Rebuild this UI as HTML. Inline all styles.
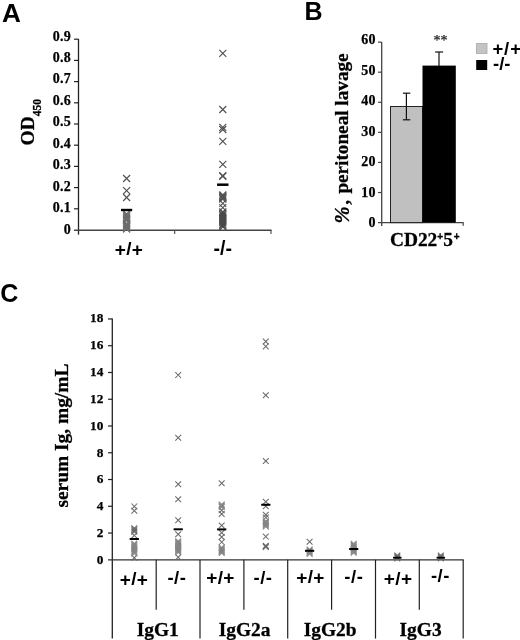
<!DOCTYPE html>
<html><head><meta charset="utf-8"><title>Figure</title>
<style>html,body{margin:0;padding:0;background:#fff}svg{display:block}.sf{font-family:"Liberation Serif",serif}.ss{font-family:"Liberation Sans",sans-serif}</style>
</head><body>
<svg width="520" height="640" viewBox="0 0 520 640">
<rect width="520" height="640" fill="#fff"/>
<text x="1.9" y="22" class="ss" font-size="25" font-weight="bold" text-anchor="start" textLength="18.9" lengthAdjust="spacingAndGlyphs">A</text>
<text x="304.5" y="19.5" class="ss" font-size="25" font-weight="bold" text-anchor="start" >B</text>
<text x="0.2" y="302.2" class="ss" font-size="25" font-weight="bold" text-anchor="start" >C</text>
<line x1="78.5" y1="39" x2="78.5" y2="234.6" stroke="#222" stroke-width="1.3"/>
<line x1="74" y1="230.2" x2="271.5" y2="230.2" stroke="#444" stroke-width="1.5"/>
<line x1="74" y1="208.8" x2="78.5" y2="208.8" stroke="#222" stroke-width="1.2"/>
<line x1="74" y1="187.6" x2="78.5" y2="187.6" stroke="#222" stroke-width="1.2"/>
<line x1="74" y1="166.4" x2="78.5" y2="166.4" stroke="#222" stroke-width="1.2"/>
<line x1="74" y1="145.2" x2="78.5" y2="145.2" stroke="#222" stroke-width="1.2"/>
<line x1="74" y1="124.0" x2="78.5" y2="124.0" stroke="#222" stroke-width="1.2"/>
<line x1="74" y1="102.8" x2="78.5" y2="102.8" stroke="#222" stroke-width="1.2"/>
<line x1="74" y1="81.6" x2="78.5" y2="81.6" stroke="#222" stroke-width="1.2"/>
<line x1="74" y1="60.400000000000006" x2="78.5" y2="60.400000000000006" stroke="#222" stroke-width="1.2"/>
<line x1="74" y1="39.19999999999999" x2="78.5" y2="39.19999999999999" stroke="#222" stroke-width="1.2"/>
<line x1="174.7" y1="230" x2="174.7" y2="234" stroke="#444" stroke-width="1.1"/>
<line x1="271" y1="230" x2="271" y2="234" stroke="#444" stroke-width="1.1"/>
<text x="70.9" y="233.75" class="sf" font-size="14" font-weight="bold" text-anchor="end" stroke="#000" stroke-width="0.25" letter-spacing="0.2">0</text>
<text x="70.9" y="212.28" class="sf" font-size="14" font-weight="bold" text-anchor="end" stroke="#000" stroke-width="0.25" letter-spacing="0.2">0.1</text>
<text x="70.9" y="190.81" class="sf" font-size="14" font-weight="bold" text-anchor="end" stroke="#000" stroke-width="0.25" letter-spacing="0.2">0.2</text>
<text x="70.9" y="169.34" class="sf" font-size="14" font-weight="bold" text-anchor="end" stroke="#000" stroke-width="0.25" letter-spacing="0.2">0.3</text>
<text x="70.9" y="147.87" class="sf" font-size="14" font-weight="bold" text-anchor="end" stroke="#000" stroke-width="0.25" letter-spacing="0.2">0.4</text>
<text x="70.9" y="126.4" class="sf" font-size="14" font-weight="bold" text-anchor="end" stroke="#000" stroke-width="0.25" letter-spacing="0.2">0.5</text>
<text x="70.9" y="104.93" class="sf" font-size="14" font-weight="bold" text-anchor="end" stroke="#000" stroke-width="0.25" letter-spacing="0.2">0.6</text>
<text x="70.9" y="83.46" class="sf" font-size="14" font-weight="bold" text-anchor="end" stroke="#000" stroke-width="0.25" letter-spacing="0.2">0.7</text>
<text x="70.9" y="61.99" class="sf" font-size="14" font-weight="bold" text-anchor="end" stroke="#000" stroke-width="0.25" letter-spacing="0.2">0.8</text>
<text x="70.9" y="40.52" class="sf" font-size="14" font-weight="bold" text-anchor="end" stroke="#000" stroke-width="0.25" letter-spacing="0.2">0.9</text>
<path d="M123.10 175.00L130.10 182.00M123.10 182.00L130.10 175.00" stroke="#505050" stroke-width="1.15" fill="none"/>
<path d="M123.10 187.10L130.10 194.10M123.10 194.10L130.10 187.10" stroke="#505050" stroke-width="1.15" fill="none"/>
<path d="M123.10 194.00L130.10 201.00M123.10 201.00L130.10 194.00" stroke="#505050" stroke-width="1.15" fill="none"/>
<path d="M123.10 210.50L130.10 217.50M123.10 217.50L130.10 210.50" stroke="#6c6c6c" stroke-width="1.15" fill="none"/><path d="M123.10 211.45L130.10 218.45M123.10 218.45L130.10 211.45" stroke="#6c6c6c" stroke-width="1.15" fill="none"/><path d="M123.10 212.40L130.10 219.40M123.10 219.40L130.10 212.40" stroke="#6c6c6c" stroke-width="1.15" fill="none"/><path d="M123.10 213.35L130.10 220.35M123.10 220.35L130.10 213.35" stroke="#6c6c6c" stroke-width="1.15" fill="none"/><path d="M123.10 214.30L130.10 221.30M123.10 221.30L130.10 214.30" stroke="#6c6c6c" stroke-width="1.15" fill="none"/><path d="M123.10 215.25L130.10 222.25M123.10 222.25L130.10 215.25" stroke="#6c6c6c" stroke-width="1.15" fill="none"/><path d="M123.10 216.20L130.10 223.20M123.10 223.20L130.10 216.20" stroke="#6c6c6c" stroke-width="1.15" fill="none"/><path d="M123.10 217.15L130.10 224.15M123.10 224.15L130.10 217.15" stroke="#6c6c6c" stroke-width="1.15" fill="none"/>
<path d="M123.10 220.10L130.10 227.10M123.10 227.10L130.10 220.10" stroke="#6c6c6c" stroke-width="1.15" fill="none"/><path d="M123.10 221.00L130.10 228.00M123.10 228.00L130.10 221.00" stroke="#6c6c6c" stroke-width="1.15" fill="none"/><path d="M123.10 221.90L130.10 228.90M123.10 228.90L130.10 221.90" stroke="#6c6c6c" stroke-width="1.15" fill="none"/><path d="M123.10 222.80L130.10 229.80M123.10 229.80L130.10 222.80" stroke="#6c6c6c" stroke-width="1.15" fill="none"/><path d="M123.10 223.70L130.10 230.70M123.10 230.70L130.10 223.70" stroke="#6c6c6c" stroke-width="1.15" fill="none"/><path d="M123.10 224.60L130.10 231.60M123.10 231.60L130.10 224.60" stroke="#6c6c6c" stroke-width="1.15" fill="none"/><path d="M123.10 225.50L130.10 232.50M123.10 232.50L130.10 225.50" stroke="#6c6c6c" stroke-width="1.15" fill="none"/>
<rect x="121.00" y="208.80" width="11.20" height="2.40" fill="#000"/>
<path d="M219.30 49.80L226.30 56.80M219.30 56.80L226.30 49.80" stroke="#505050" stroke-width="1.15" fill="none"/>
<path d="M219.30 106.00L226.30 113.00M219.30 113.00L226.30 106.00" stroke="#505050" stroke-width="1.15" fill="none"/>
<path d="M219.30 123.80L226.30 130.80M219.30 130.80L226.30 123.80" stroke="#505050" stroke-width="1.15" fill="none"/>
<path d="M219.30 126.00L226.30 133.00M219.30 133.00L226.30 126.00" stroke="#505050" stroke-width="1.15" fill="none"/>
<path d="M219.30 137.80L226.30 144.80M219.30 144.80L226.30 137.80" stroke="#505050" stroke-width="1.15" fill="none"/>
<path d="M219.30 160.90L226.30 167.90M219.30 167.90L226.30 160.90" stroke="#505050" stroke-width="1.15" fill="none"/>
<path d="M219.30 172.10L226.30 179.10M219.30 179.10L226.30 172.10" stroke="#505050" stroke-width="1.15" fill="none"/>
<path d="M219.30 172.90L226.30 179.90M219.30 179.90L226.30 172.90" stroke="#505050" stroke-width="1.15" fill="none"/>
<path d="M219.30 191.50L226.30 198.50M219.30 198.50L226.30 191.50" stroke="#555" stroke-width="1.15" fill="none"/><path d="M219.30 192.30L226.30 199.30M219.30 199.30L226.30 192.30" stroke="#555" stroke-width="1.15" fill="none"/><path d="M219.30 193.10L226.30 200.10M219.30 200.10L226.30 193.10" stroke="#555" stroke-width="1.15" fill="none"/><path d="M219.30 193.90L226.30 200.90M219.30 200.90L226.30 193.90" stroke="#555" stroke-width="1.15" fill="none"/><path d="M219.30 194.70L226.30 201.70M219.30 201.70L226.30 194.70" stroke="#555" stroke-width="1.15" fill="none"/><path d="M219.30 195.50L226.30 202.50M219.30 202.50L226.30 195.50" stroke="#555" stroke-width="1.15" fill="none"/>
<path d="M219.30 199.90L226.30 206.90M219.30 206.90L226.30 199.90" stroke="#555" stroke-width="1.15" fill="none"/>
<path d="M219.30 204.10L226.30 211.10M219.30 211.10L226.30 204.10" stroke="#555" stroke-width="1.15" fill="none"/>
<path d="M219.30 208.30L226.30 215.30M219.30 215.30L226.30 208.30" stroke="#484848" stroke-width="1.1" fill="none"/><path d="M219.30 209.66L226.30 216.66M219.30 216.66L226.30 209.66" stroke="#484848" stroke-width="1.1" fill="none"/><path d="M219.30 211.02L226.30 218.02M219.30 218.02L226.30 211.02" stroke="#484848" stroke-width="1.1" fill="none"/><path d="M219.30 212.38L226.30 219.38M219.30 219.38L226.30 212.38" stroke="#484848" stroke-width="1.1" fill="none"/><path d="M219.30 213.74L226.30 220.74M219.30 220.74L226.30 213.74" stroke="#484848" stroke-width="1.1" fill="none"/><path d="M219.30 215.10L226.30 222.10M219.30 222.10L226.30 215.10" stroke="#484848" stroke-width="1.1" fill="none"/><path d="M219.30 216.46L226.30 223.46M219.30 223.46L226.30 216.46" stroke="#484848" stroke-width="1.1" fill="none"/><path d="M219.30 217.82L226.30 224.82M219.30 224.82L226.30 217.82" stroke="#484848" stroke-width="1.1" fill="none"/><path d="M219.30 219.18L226.30 226.18M219.30 226.18L226.30 219.18" stroke="#484848" stroke-width="1.1" fill="none"/><path d="M219.30 220.54L226.30 227.54M219.30 227.54L226.30 220.54" stroke="#484848" stroke-width="1.1" fill="none"/><path d="M219.30 221.90L226.30 228.90M219.30 228.90L226.30 221.90" stroke="#484848" stroke-width="1.1" fill="none"/><path d="M219.30 223.26L226.30 230.26M219.30 230.26L226.30 223.26" stroke="#484848" stroke-width="1.1" fill="none"/>
<rect x="217.10" y="183.45" width="11.40" height="2.50" fill="#000"/>
<text x="129.0" y="254.5" class="ss" font-size="19" font-weight="bold" text-anchor="middle" letter-spacing="0.35"><tspan dy="1.9">+</tspan><tspan dy="-1.9">/</tspan><tspan dy="1.9">+</tspan></text>
<text x="222.7" y="254.9" class="ss" font-size="19.5" font-weight="bold" text-anchor="middle" >-/-</text>
<g transform="translate(34,145.5) rotate(-90)"><text x="0" y="0" class="sf" font-size="19.5" font-weight="bold" text-anchor="start" stroke="#000" stroke-width="0.3">OD<tspan font-size="11.5" dy="7">450</tspan></text></g>
<line x1="381.7" y1="42" x2="381.7" y2="226.1" stroke="#444" stroke-width="1.3"/>
<line x1="378" y1="222.6" x2="463.5" y2="222.6" stroke="#444" stroke-width="1.3"/>
<line x1="463.2" y1="222.6" x2="463.2" y2="225.79999999999998" stroke="#444" stroke-width="1.2"/>
<line x1="378" y1="192.51999999999998" x2="381.7" y2="192.51999999999998" stroke="#444" stroke-width="1.2"/>
<line x1="378" y1="162.44" x2="381.7" y2="162.44" stroke="#444" stroke-width="1.2"/>
<line x1="378" y1="132.36" x2="381.7" y2="132.36" stroke="#444" stroke-width="1.2"/>
<line x1="378" y1="102.28" x2="381.7" y2="102.28" stroke="#444" stroke-width="1.2"/>
<line x1="378" y1="72.20000000000002" x2="381.7" y2="72.20000000000002" stroke="#444" stroke-width="1.2"/>
<line x1="378" y1="42.120000000000005" x2="381.7" y2="42.120000000000005" stroke="#444" stroke-width="1.2"/>
<text x="375.7" y="227.0" class="sf" font-size="14" font-weight="bold" text-anchor="end" stroke="#000" stroke-width="0.25" letter-spacing="0.2">0</text>
<text x="375.7" y="196.55" class="sf" font-size="14" font-weight="bold" text-anchor="end" stroke="#000" stroke-width="0.25" letter-spacing="0.2">10</text>
<text x="375.7" y="166.1" class="sf" font-size="14" font-weight="bold" text-anchor="end" stroke="#000" stroke-width="0.25" letter-spacing="0.2">20</text>
<text x="375.7" y="135.65" class="sf" font-size="14" font-weight="bold" text-anchor="end" stroke="#000" stroke-width="0.25" letter-spacing="0.2">30</text>
<text x="375.7" y="105.2" class="sf" font-size="14" font-weight="bold" text-anchor="end" stroke="#000" stroke-width="0.25" letter-spacing="0.2">40</text>
<text x="375.7" y="74.75" class="sf" font-size="14" font-weight="bold" text-anchor="end" stroke="#000" stroke-width="0.25" letter-spacing="0.2">50</text>
<text x="375.7" y="44.3" class="sf" font-size="14" font-weight="bold" text-anchor="end" stroke="#000" stroke-width="0.25" letter-spacing="0.2">60</text>
<rect x="390.5" y="106.5" width="32" height="116.10" fill="#c0c0c0" stroke="#222" stroke-width="1"/>
<rect x="422.5" y="65.6" width="33.3" height="157.00" fill="#000"/>
<line x1="406.4" y1="93.2" x2="406.4" y2="119.8" stroke="#111" stroke-width="1.2"/>
<line x1="402.9" y1="93.2" x2="410.3" y2="93.2" stroke="#111" stroke-width="1.2"/>
<line x1="402.9" y1="119.8" x2="410.3" y2="119.8" stroke="#111" stroke-width="1.2"/>
<line x1="439.0" y1="52" x2="439.0" y2="66" stroke="#111" stroke-width="1.2"/>
<line x1="435.1" y1="52" x2="443.1" y2="52" stroke="#111" stroke-width="1.2"/>
<text x="440.5" y="45.1" class="sf" font-size="14" font-weight="normal" text-anchor="middle" stroke="#222" stroke-width="0.25" fill="#222">**</text>
<text x="389.9" y="246.3" class="sf" font-size="19.4" font-weight="bold" text-anchor="start" stroke="#000" stroke-width="0.3">CD22<tspan font-size="10" dy="-6.3" dx="-0.1" class="ss">+</tspan><tspan dy="6.3" dx="0.2">5</tspan><tspan font-size="10" dy="-6.3" dx="0.9" class="ss">+</tspan></text>
<g transform="translate(348.9,223.4) rotate(-90)"><text x="0" y="0" class="sf" font-size="19.5" font-weight="bold" text-anchor="start" stroke="#000" stroke-width="0.3"><tspan font-style="italic" font-size="20.5">%</tspan><tspan dx="1.6">,</tspan></text></g>
<g transform="translate(348.4,193.6) rotate(-90)"><text x="0" y="0" class="sf" font-size="19.5" font-weight="bold" text-anchor="start" textLength="140.2" lengthAdjust="spacingAndGlyphs" stroke="#000" stroke-width="0.3">peritoneal lavage</text></g>
<rect x="476.5" y="43.5" width="10.5" height="10" fill="#c4c4c4" stroke="#aaa" stroke-width="0.8"/>
<rect x="476.2" y="60" width="11" height="10" fill="#000"/>
<text x="492.4" y="54.5" class="ss" font-size="18.5" font-weight="bold" text-anchor="start" letter-spacing="0.9"><tspan dy="0.9">+</tspan><tspan dy="-0.9">/</tspan><tspan dy="0.9">+</tspan></text>
<text x="493.0" y="70.2" class="ss" font-size="18.5" font-weight="bold" text-anchor="start" >-/-</text>
<line x1="112.3" y1="318.5" x2="112.3" y2="638.6" stroke="#222" stroke-width="1.3"/>
<line x1="108" y1="559.8" x2="463.6" y2="559.8" stroke="#333" stroke-width="1.3"/>
<line x1="108" y1="533.04" x2="112.3" y2="533.04" stroke="#222" stroke-width="1.2"/>
<line x1="108" y1="506.28" x2="112.3" y2="506.28" stroke="#222" stroke-width="1.2"/>
<line x1="108" y1="479.52" x2="112.3" y2="479.52" stroke="#222" stroke-width="1.2"/>
<line x1="108" y1="452.75999999999993" x2="112.3" y2="452.75999999999993" stroke="#222" stroke-width="1.2"/>
<line x1="108" y1="425.99999999999994" x2="112.3" y2="425.99999999999994" stroke="#222" stroke-width="1.2"/>
<line x1="108" y1="399.23999999999995" x2="112.3" y2="399.23999999999995" stroke="#222" stroke-width="1.2"/>
<line x1="108" y1="372.4799999999999" x2="112.3" y2="372.4799999999999" stroke="#222" stroke-width="1.2"/>
<line x1="108" y1="345.7199999999999" x2="112.3" y2="345.7199999999999" stroke="#222" stroke-width="1.2"/>
<line x1="108" y1="318.9599999999999" x2="112.3" y2="318.9599999999999" stroke="#222" stroke-width="1.2"/>
<text x="103.6" y="563.95" class="sf" font-size="13.3" font-weight="bold" text-anchor="end" stroke="#000" stroke-width="0.25" letter-spacing="0.2">0</text>
<text x="103.6" y="537.1" class="sf" font-size="13.3" font-weight="bold" text-anchor="end" stroke="#000" stroke-width="0.25" letter-spacing="0.2">2</text>
<text x="103.6" y="510.25" class="sf" font-size="13.3" font-weight="bold" text-anchor="end" stroke="#000" stroke-width="0.25" letter-spacing="0.2">4</text>
<text x="103.6" y="483.4" class="sf" font-size="13.3" font-weight="bold" text-anchor="end" stroke="#000" stroke-width="0.25" letter-spacing="0.2">6</text>
<text x="103.6" y="456.55" class="sf" font-size="13.3" font-weight="bold" text-anchor="end" stroke="#000" stroke-width="0.25" letter-spacing="0.2">8</text>
<text x="103.6" y="429.7" class="sf" font-size="13.3" font-weight="bold" text-anchor="end" stroke="#000" stroke-width="0.25" letter-spacing="0.2">10</text>
<text x="103.6" y="402.85" class="sf" font-size="13.3" font-weight="bold" text-anchor="end" stroke="#000" stroke-width="0.25" letter-spacing="0.2">12</text>
<text x="103.6" y="376.0" class="sf" font-size="13.3" font-weight="bold" text-anchor="end" stroke="#000" stroke-width="0.25" letter-spacing="0.2">14</text>
<text x="103.6" y="349.15" class="sf" font-size="13.3" font-weight="bold" text-anchor="end" stroke="#000" stroke-width="0.25" letter-spacing="0.2">16</text>
<text x="103.6" y="322.3" class="sf" font-size="13.3" font-weight="bold" text-anchor="end" stroke="#000" stroke-width="0.25" letter-spacing="0.2">18</text>
<line x1="156.2" y1="559.8" x2="156.2" y2="609.8" stroke="#222" stroke-width="1.2"/>
<line x1="200.0" y1="559.8" x2="200.0" y2="638.6" stroke="#222" stroke-width="1.2"/>
<line x1="243.9" y1="559.8" x2="243.9" y2="609.8" stroke="#222" stroke-width="1.2"/>
<line x1="287.7" y1="559.8" x2="287.7" y2="638.6" stroke="#222" stroke-width="1.2"/>
<line x1="331.6" y1="559.8" x2="331.6" y2="609.8" stroke="#222" stroke-width="1.2"/>
<line x1="375.5" y1="559.8" x2="375.5" y2="638.6" stroke="#222" stroke-width="1.2"/>
<line x1="419.3" y1="559.8" x2="419.3" y2="609.8" stroke="#222" stroke-width="1.2"/>
<line x1="463.2" y1="559.8" x2="463.2" y2="638.6" stroke="#222" stroke-width="1.2"/>
<path d="M131.40 503.50L137.20 509.30M131.40 509.30L137.20 503.50" stroke="#6a6a6a" stroke-width="1.05" fill="none"/>
<path d="M131.40 507.90L137.20 513.70M131.40 513.70L137.20 507.90" stroke="#6a6a6a" stroke-width="1.05" fill="none"/>
<path d="M131.40 525.30L137.20 531.10M131.40 531.10L137.20 525.30" stroke="#6a6a6a" stroke-width="1.05" fill="none"/>
<path d="M131.40 526.50L137.20 532.30M131.40 532.30L137.20 526.50" stroke="#6a6a6a" stroke-width="1.05" fill="none"/>
<path d="M131.40 527.70L137.20 533.50M131.40 533.50L137.20 527.70" stroke="#6a6a6a" stroke-width="1.05" fill="none"/>
<path d="M131.40 528.90L137.20 534.70M131.40 534.70L137.20 528.90" stroke="#6a6a6a" stroke-width="1.05" fill="none"/>
<path d="M131.40 532.50L137.20 538.30M131.40 538.30L137.20 532.50" stroke="#6a6a6a" stroke-width="1.05" fill="none"/>
<path d="M131.40 554.90L137.20 560.70M131.40 560.70L137.20 554.90" stroke="#6a6a6a" stroke-width="1.05" fill="none"/>
<path d="M131.40 540.70L137.20 546.50M131.40 546.50L137.20 540.70" stroke="#858585" stroke-width="1.05" fill="none"/><path d="M131.40 541.70L137.20 547.50M131.40 547.50L137.20 541.70" stroke="#858585" stroke-width="1.05" fill="none"/><path d="M131.40 542.70L137.20 548.50M131.40 548.50L137.20 542.70" stroke="#858585" stroke-width="1.05" fill="none"/><path d="M131.40 543.70L137.20 549.50M131.40 549.50L137.20 543.70" stroke="#858585" stroke-width="1.05" fill="none"/><path d="M131.40 544.70L137.20 550.50M131.40 550.50L137.20 544.70" stroke="#858585" stroke-width="1.05" fill="none"/><path d="M131.40 545.70L137.20 551.50M131.40 551.50L137.20 545.70" stroke="#858585" stroke-width="1.05" fill="none"/><path d="M131.40 546.70L137.20 552.50M131.40 552.50L137.20 546.70" stroke="#858585" stroke-width="1.05" fill="none"/><path d="M131.40 547.70L137.20 553.50M131.40 553.50L137.20 547.70" stroke="#858585" stroke-width="1.05" fill="none"/><path d="M131.40 548.70L137.20 554.50M131.40 554.50L137.20 548.70" stroke="#858585" stroke-width="1.05" fill="none"/><path d="M131.40 549.70L137.20 555.50M131.40 555.50L137.20 549.70" stroke="#858585" stroke-width="1.05" fill="none"/><path d="M131.40 550.70L137.20 556.50M131.40 556.50L137.20 550.70" stroke="#858585" stroke-width="1.05" fill="none"/>
<rect x="129.70" y="538.00" width="9.20" height="2.00" fill="#000"/>
<path d="M175.30 372.20L181.10 378.00M175.30 378.00L181.10 372.20" stroke="#6a6a6a" stroke-width="1.05" fill="none"/>
<path d="M175.30 434.90L181.10 440.70M175.30 440.70L181.10 434.90" stroke="#6a6a6a" stroke-width="1.05" fill="none"/>
<path d="M175.30 481.30L181.10 487.10M175.30 487.10L181.10 481.30" stroke="#6a6a6a" stroke-width="1.05" fill="none"/>
<path d="M175.30 496.40L181.10 502.20M175.30 502.20L181.10 496.40" stroke="#6a6a6a" stroke-width="1.05" fill="none"/>
<path d="M175.30 517.40L181.10 523.20M175.30 523.20L181.10 517.40" stroke="#6a6a6a" stroke-width="1.05" fill="none"/>
<path d="M175.30 531.30L181.10 537.10M175.30 537.10L181.10 531.30" stroke="#6a6a6a" stroke-width="1.05" fill="none"/>
<path d="M175.30 554.30L181.10 560.10M175.30 560.10L181.10 554.30" stroke="#6a6a6a" stroke-width="1.05" fill="none"/>
<path d="M175.30 538.30L181.10 544.10M175.30 544.10L181.10 538.30" stroke="#858585" stroke-width="1.05" fill="none"/><path d="M175.30 539.30L181.10 545.10M175.30 545.10L181.10 539.30" stroke="#858585" stroke-width="1.05" fill="none"/><path d="M175.30 540.30L181.10 546.10M175.30 546.10L181.10 540.30" stroke="#858585" stroke-width="1.05" fill="none"/><path d="M175.30 541.30L181.10 547.10M175.30 547.10L181.10 541.30" stroke="#858585" stroke-width="1.05" fill="none"/><path d="M175.30 542.30L181.10 548.10M175.30 548.10L181.10 542.30" stroke="#858585" stroke-width="1.05" fill="none"/><path d="M175.30 543.30L181.10 549.10M175.30 549.10L181.10 543.30" stroke="#858585" stroke-width="1.05" fill="none"/><path d="M175.30 544.30L181.10 550.10M175.30 550.10L181.10 544.30" stroke="#858585" stroke-width="1.05" fill="none"/><path d="M175.30 545.30L181.10 551.10M175.30 551.10L181.10 545.30" stroke="#858585" stroke-width="1.05" fill="none"/><path d="M175.30 546.30L181.10 552.10M175.30 552.10L181.10 546.30" stroke="#858585" stroke-width="1.05" fill="none"/><path d="M175.30 547.30L181.10 553.10M175.30 553.10L181.10 547.30" stroke="#858585" stroke-width="1.05" fill="none"/><path d="M175.30 548.30L181.10 554.10M175.30 554.10L181.10 548.30" stroke="#858585" stroke-width="1.05" fill="none"/><path d="M175.30 549.30L181.10 555.10M175.30 555.10L181.10 549.30" stroke="#858585" stroke-width="1.05" fill="none"/>
<rect x="173.60" y="528.30" width="9.20" height="2.00" fill="#000"/>
<path d="M218.80 480.30L224.60 486.10M218.80 486.10L224.60 480.30" stroke="#6a6a6a" stroke-width="1.05" fill="none"/>
<path d="M218.80 507.40L224.60 513.20M218.80 513.20L224.60 507.40" stroke="#6a6a6a" stroke-width="1.05" fill="none"/>
<path d="M218.80 511.10L224.60 516.90M218.80 516.90L224.60 511.10" stroke="#6a6a6a" stroke-width="1.05" fill="none"/>
<path d="M218.80 522.60L224.60 528.40M218.80 528.40L224.60 522.60" stroke="#6a6a6a" stroke-width="1.05" fill="none"/>
<path d="M218.80 529.80L224.60 535.60M218.80 535.60L224.60 529.80" stroke="#6a6a6a" stroke-width="1.05" fill="none"/>
<path d="M218.80 534.10L224.60 539.90M218.80 539.90L224.60 534.10" stroke="#6a6a6a" stroke-width="1.05" fill="none"/>
<path d="M218.80 539.20L224.60 545.00M218.80 545.00L224.60 539.20" stroke="#6a6a6a" stroke-width="1.05" fill="none"/>
<path d="M218.80 501.50L224.60 507.30M218.80 507.30L224.60 501.50" stroke="#858585" stroke-width="1.05" fill="none"/><path d="M218.80 502.40L224.60 508.20M218.80 508.20L224.60 502.40" stroke="#858585" stroke-width="1.05" fill="none"/><path d="M218.80 503.30L224.60 509.10M218.80 509.10L224.60 503.30" stroke="#858585" stroke-width="1.05" fill="none"/><path d="M218.80 504.20L224.60 510.00M218.80 510.00L224.60 504.20" stroke="#858585" stroke-width="1.05" fill="none"/>
<path d="M218.80 544.70L224.60 550.50M218.80 550.50L224.60 544.70" stroke="#858585" stroke-width="1.05" fill="none"/><path d="M218.80 545.60L224.60 551.40M218.80 551.40L224.60 545.60" stroke="#858585" stroke-width="1.05" fill="none"/><path d="M218.80 546.50L224.60 552.30M218.80 552.30L224.60 546.50" stroke="#858585" stroke-width="1.05" fill="none"/><path d="M218.80 547.40L224.60 553.20M218.80 553.20L224.60 547.40" stroke="#858585" stroke-width="1.05" fill="none"/><path d="M218.80 548.30L224.60 554.10M218.80 554.10L224.60 548.30" stroke="#858585" stroke-width="1.05" fill="none"/><path d="M218.80 549.20L224.60 555.00M218.80 555.00L224.60 549.20" stroke="#858585" stroke-width="1.05" fill="none"/><path d="M218.80 550.10L224.60 555.90M218.80 555.90L224.60 550.10" stroke="#858585" stroke-width="1.05" fill="none"/>
<rect x="217.10" y="528.40" width="9.20" height="2.00" fill="#000"/>
<path d="M262.90 338.60L268.70 344.40M262.90 344.40L268.70 338.60" stroke="#6a6a6a" stroke-width="1.05" fill="none"/>
<path d="M262.90 343.50L268.70 349.30M262.90 349.30L268.70 343.50" stroke="#6a6a6a" stroke-width="1.05" fill="none"/>
<path d="M262.90 392.30L268.70 398.10M262.90 398.10L268.70 392.30" stroke="#6a6a6a" stroke-width="1.05" fill="none"/>
<path d="M262.90 458.10L268.70 463.90M262.90 463.90L268.70 458.10" stroke="#6a6a6a" stroke-width="1.05" fill="none"/>
<path d="M262.90 498.90L268.70 504.70M262.90 504.70L268.70 498.90" stroke="#6a6a6a" stroke-width="1.05" fill="none"/>
<path d="M262.90 503.30L268.70 509.10M262.90 509.10L268.70 503.30" stroke="#6a6a6a" stroke-width="1.05" fill="none"/>
<path d="M262.90 511.80L268.70 517.60M262.90 517.60L268.70 511.80" stroke="#6a6a6a" stroke-width="1.05" fill="none"/>
<path d="M262.90 514.70L268.70 520.50M262.90 520.50L268.70 514.70" stroke="#6a6a6a" stroke-width="1.05" fill="none"/>
<path d="M262.90 533.70L268.70 539.50M262.90 539.50L268.70 533.70" stroke="#6a6a6a" stroke-width="1.05" fill="none"/>
<path d="M262.90 542.90L268.70 548.70M262.90 548.70L268.70 542.90" stroke="#6a6a6a" stroke-width="1.05" fill="none"/>
<path d="M262.90 543.50L268.70 549.30M262.90 549.30L268.70 543.50" stroke="#6a6a6a" stroke-width="1.05" fill="none"/>
<path d="M262.90 544.10L268.70 549.90M262.90 549.90L268.70 544.10" stroke="#6a6a6a" stroke-width="1.05" fill="none"/>
<path d="M262.90 518.30L268.70 524.10M262.90 524.10L268.70 518.30" stroke="#858585" stroke-width="1.05" fill="none"/><path d="M262.90 519.20L268.70 525.00M262.90 525.00L268.70 519.20" stroke="#858585" stroke-width="1.05" fill="none"/><path d="M262.90 520.10L268.70 525.90M262.90 525.90L268.70 520.10" stroke="#858585" stroke-width="1.05" fill="none"/><path d="M262.90 521.00L268.70 526.80M262.90 526.80L268.70 521.00" stroke="#858585" stroke-width="1.05" fill="none"/><path d="M262.90 521.90L268.70 527.70M262.90 527.70L268.70 521.90" stroke="#858585" stroke-width="1.05" fill="none"/><path d="M262.90 522.80L268.70 528.60M262.90 528.60L268.70 522.80" stroke="#858585" stroke-width="1.05" fill="none"/><path d="M262.90 523.70L268.70 529.50M262.90 529.50L268.70 523.70" stroke="#858585" stroke-width="1.05" fill="none"/>
<rect x="261.20" y="503.80" width="9.20" height="2.00" fill="#000"/>
<path d="M306.70 538.90L312.50 544.70M306.70 544.70L312.50 538.90" stroke="#6a6a6a" stroke-width="1.05" fill="none"/>
<path d="M306.70 546.50L312.50 552.30M306.70 552.30L312.50 546.50" stroke="#858585" stroke-width="1.05" fill="none"/><path d="M306.70 547.40L312.50 553.20M306.70 553.20L312.50 547.40" stroke="#858585" stroke-width="1.05" fill="none"/><path d="M306.70 548.30L312.50 554.10M306.70 554.10L312.50 548.30" stroke="#858585" stroke-width="1.05" fill="none"/><path d="M306.70 549.20L312.50 555.00M306.70 555.00L312.50 549.20" stroke="#858585" stroke-width="1.05" fill="none"/><path d="M306.70 550.10L312.50 555.90M306.70 555.90L312.50 550.10" stroke="#858585" stroke-width="1.05" fill="none"/><path d="M306.70 551.00L312.50 556.80M306.70 556.80L312.50 551.00" stroke="#858585" stroke-width="1.05" fill="none"/>
<rect x="305.00" y="549.80" width="9.20" height="2.00" fill="#000"/>
<path d="M350.80 540.80L356.60 546.60M350.80 546.60L356.60 540.80" stroke="#858585" stroke-width="1.05" fill="none"/><path d="M350.80 541.80L356.60 547.60M350.80 547.60L356.60 541.80" stroke="#858585" stroke-width="1.05" fill="none"/><path d="M350.80 542.80L356.60 548.60M350.80 548.60L356.60 542.80" stroke="#858585" stroke-width="1.05" fill="none"/><path d="M350.80 543.80L356.60 549.60M350.80 549.60L356.60 543.80" stroke="#858585" stroke-width="1.05" fill="none"/><path d="M350.80 544.80L356.60 550.60M350.80 550.60L356.60 544.80" stroke="#858585" stroke-width="1.05" fill="none"/><path d="M350.80 545.80L356.60 551.60M350.80 551.60L356.60 545.80" stroke="#858585" stroke-width="1.05" fill="none"/><path d="M350.80 546.80L356.60 552.60M350.80 552.60L356.60 546.80" stroke="#858585" stroke-width="1.05" fill="none"/><path d="M350.80 547.80L356.60 553.60M350.80 553.60L356.60 547.80" stroke="#858585" stroke-width="1.05" fill="none"/><path d="M350.80 548.80L356.60 554.60M350.80 554.60L356.60 548.80" stroke="#858585" stroke-width="1.05" fill="none"/><path d="M350.80 549.80L356.60 555.60M350.80 555.60L356.60 549.80" stroke="#858585" stroke-width="1.05" fill="none"/>
<rect x="349.10" y="548.00" width="9.20" height="2.00" fill="#000"/>
<path d="M394.40 552.60L400.20 558.40M394.40 558.40L400.20 552.60" stroke="#6a6a6a" stroke-width="1.05" fill="none"/><path d="M394.40 553.60L400.20 559.40M394.40 559.40L400.20 553.60" stroke="#6a6a6a" stroke-width="1.05" fill="none"/><path d="M394.40 554.60L400.20 560.40M394.40 560.40L400.20 554.60" stroke="#6a6a6a" stroke-width="1.05" fill="none"/><path d="M394.40 555.60L400.20 561.40M394.40 561.40L400.20 555.60" stroke="#6a6a6a" stroke-width="1.05" fill="none"/>
<rect x="393.05" y="556.80" width="8.50" height="1.80" fill="#000"/>
<path d="M437.90 552.60L443.70 558.40M437.90 558.40L443.70 552.60" stroke="#6a6a6a" stroke-width="1.05" fill="none"/><path d="M437.90 553.60L443.70 559.40M437.90 559.40L443.70 553.60" stroke="#6a6a6a" stroke-width="1.05" fill="none"/><path d="M437.90 554.60L443.70 560.40M437.90 560.40L443.70 554.60" stroke="#6a6a6a" stroke-width="1.05" fill="none"/><path d="M437.90 555.60L443.70 561.40M437.90 561.40L443.70 555.60" stroke="#6a6a6a" stroke-width="1.05" fill="none"/>
<rect x="436.55" y="556.80" width="8.50" height="1.80" fill="#000"/>
<text x="134.0" y="585.3" class="ss" font-size="19" font-weight="bold" text-anchor="middle" letter-spacing="0.35"><tspan dy="0.5">+</tspan><tspan dy="-0.5">/</tspan><tspan dy="0.5">+</tspan></text>
<text x="176.9" y="583.5" class="ss" font-size="18.5" font-weight="bold" text-anchor="middle" letter-spacing="0.5">-/-</text>
<text x="220.5" y="583.5" class="ss" font-size="19" font-weight="bold" text-anchor="middle" letter-spacing="0.35"><tspan dy="0.5">+</tspan><tspan dy="-0.5">/</tspan><tspan dy="0.5">+</tspan></text>
<text x="263.0" y="583.5" class="ss" font-size="18.5" font-weight="bold" text-anchor="middle" letter-spacing="0.5">-/-</text>
<text x="310.45" y="583.0" class="ss" font-size="19" font-weight="bold" text-anchor="middle" letter-spacing="0.35"><tspan dy="0.5">+</tspan><tspan dy="-0.5">/</tspan><tspan dy="0.5">+</tspan></text>
<text x="353.85" y="583.0" class="ss" font-size="18.5" font-weight="bold" text-anchor="middle" letter-spacing="0.5">-/-</text>
<text x="398.09999999999997" y="584.7" class="ss" font-size="19" font-weight="bold" text-anchor="middle" letter-spacing="0.35"><tspan dy="0.5">+</tspan><tspan dy="-0.5">/</tspan><tspan dy="0.5">+</tspan></text>
<text x="440.45" y="582.3" class="ss" font-size="18.5" font-weight="bold" text-anchor="middle" letter-spacing="0.5">-/-</text>
<text x="157.8" y="635.5" class="sf" font-size="19.4" font-weight="bold" text-anchor="middle" stroke="#000" stroke-width="0.3">IgG1</text>
<text x="244.5" y="635.5" class="sf" font-size="19.4" font-weight="bold" text-anchor="middle" stroke="#000" stroke-width="0.3">IgG2a</text>
<text x="330.2" y="635.5" class="sf" font-size="19.4" font-weight="bold" text-anchor="middle" stroke="#000" stroke-width="0.3">IgG2b</text>
<text x="420.6" y="635.5" class="sf" font-size="19.4" font-weight="bold" text-anchor="middle" stroke="#000" stroke-width="0.3">IgG3</text>
<g transform="translate(68.2,507.6) rotate(-90)"><text x="0" y="0" class="sf" font-size="19.5" font-weight="bold" text-anchor="start" textLength="144" lengthAdjust="spacingAndGlyphs" stroke="#000" stroke-width="0.3">serum Ig, mg/mL</text></g>
</svg>
</body></html>
